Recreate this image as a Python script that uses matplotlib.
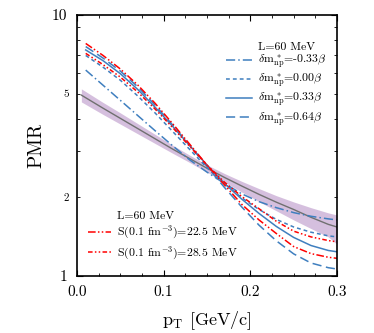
import matplotlib
matplotlib.use('Agg')
import matplotlib.pyplot as plt
from matplotlib.ticker import MultipleLocator
from matplotlib.lines import Line2D

plt.rcParams['font.family'] = 'serif'
plt.rcParams['font.serif'] = ['cmr10', 'DejaVu Serif']
plt.rcParams['mathtext.fontset'] = 'cm'
plt.rcParams['axes.unicode_minus'] = False

# transverse momentum grid (GeV/c) and log10(PMR)
pt = [0.01, 0.03, 0.05, 0.07, 0.09, 0.11, 0.13, 0.15, 0.17, 0.19, 0.21, 0.23, 0.25, 0.27, 0.29, 0.30]
pt_band = [0.005, 0.03, 0.05, 0.07, 0.09, 0.11, 0.13, 0.15, 0.17, 0.19, 0.21, 0.23, 0.25, 0.27, 0.29, 0.30]

dm_m033 = [0.789, 0.731, 0.673, 0.615, 0.557, 0.50, 0.445, 0.398, 0.355, 0.315, 0.285, 0.262, 0.243, 0.229, 0.219, 0.215]
dm_000 = [0.845, 0.80, 0.75, 0.69, 0.625, 0.555, 0.485, 0.415, 0.355, 0.30, 0.255, 0.217, 0.188, 0.168, 0.154, 0.150]
dm_033 = [0.866, 0.825, 0.775, 0.715, 0.647, 0.575, 0.50, 0.425, 0.355, 0.295, 0.24, 0.19, 0.148, 0.117, 0.098, 0.093]
dm_064 = [0.879, 0.835, 0.785, 0.725, 0.655, 0.58, 0.50, 0.42, 0.34, 0.265, 0.195, 0.135, 0.085, 0.05, 0.032, 0.027]
s_225 = [0.891, 0.845, 0.793, 0.732, 0.662, 0.585, 0.505, 0.425, 0.35, 0.275, 0.215, 0.163, 0.113, 0.086, 0.072, 0.068]
s_285 = [0.853, 0.81, 0.762, 0.705, 0.64, 0.57, 0.497, 0.425, 0.36, 0.305, 0.258, 0.21, 0.172, 0.15, 0.136, 0.131]

exp_mid = [0.693, 0.643, 0.604, 0.565, 0.526, 0.487, 0.45, 0.413, 0.378, 0.345, 0.313, 0.283, 0.255, 0.225, 0.198, 0.188]
exp_hi = [0.717, 0.665, 0.625, 0.584, 0.543, 0.502, 0.463, 0.426, 0.393, 0.363, 0.335, 0.308, 0.284, 0.262, 0.242, 0.234]
exp_lo = [0.667, 0.619, 0.582, 0.545, 0.508, 0.471, 0.435, 0.398, 0.36, 0.322, 0.285, 0.25, 0.215, 0.182, 0.15, 0.122]

def lin(v):
    return [10 ** x for x in v]

blue = '#3f7fbf'
red = '#ff0000'

fig = plt.figure(figsize=(3.74, 3.33), dpi=100)
ax = fig.add_axes([0.206, 0.171, 0.695, 0.784])

ax.fill_between(pt_band, lin(exp_lo), lin(exp_hi), color='#b48cc3', alpha=0.55, lw=0)
ax.plot(pt_band, lin(exp_mid), color='#707070', lw=1.0)

b1, = ax.plot(pt, lin(dm_m033), color=blue, lw=1.1, ls=(0, (6, 2, 1, 2)))
b2, = ax.plot(pt, lin(dm_000), color=blue, lw=1.1, ls=(0, (2.5, 2)))
b3, = ax.plot(pt, lin(dm_033), color=blue, lw=1.1, ls='-')
b4, = ax.plot(pt, lin(dm_064), color=blue, lw=1.1, ls=(0, (6, 3)))
r1, = ax.plot(pt, lin(s_225), color=red, lw=1.1, ls=(0, (5, 1.5, 1, 1.5, 1, 1.5)))
r2, = ax.plot(pt, lin(s_285), color=red, lw=1.1, ls=(0, (3, 1.5, 1, 1.5, 1, 1.5)))

ax.set_yscale('log')
ax.set_xlim(0, 0.3)
ax.set_ylim(1, 10)
ax.set_xticks([0, 0.1, 0.2, 0.3])
ax.set_xticklabels(['0.0', '0.1', '0.2', '0.3'], fontsize=11)
ax.xaxis.set_minor_locator(MultipleLocator(0.025))
ax.set_yticks([1, 10])
ax.set_yticklabels(['1', '10'], fontsize=11)
ax.set_yticks([2, 3, 4, 5, 6, 7, 8, 9], minor=True)
ax.set_yticklabels(['2', '', '', '5', '', '', '', ''], minor=True, fontsize=8)
ax.tick_params(which='both', direction='in', top=True, right=True)
ax.tick_params(which='major', length=4, width=0.8)
ax.tick_params(which='minor', length=2.5, width=0.6)
ax.tick_params(axis='x', which='major', pad=7)
ax.tick_params(axis='y', which='major', pad=7)
ax.tick_params(axis='y', which='minor', pad=6)
for s in ax.spines.values():
    s.set_linewidth(1.2)

ax.set_xlabel(r'$\mathrm{p_T}$ [GeV/c]', fontsize=13, labelpad=7)
ax.set_ylabel('PMR', fontsize=14, labelpad=5)

blank = Line2D([], [], color='none')
leg1 = ax.legend([blank, b1, b2, b3, b4],
                 ['L=60 MeV',
                  r'$\delta\mathrm{m}_{\mathrm{np}}^{\,*}$=-0.33$\beta$',
                  r'$\delta\mathrm{m}_{\mathrm{np}}^{\,*}$=0.00$\beta$',
                  r'$\delta\mathrm{m}_{\mathrm{np}}^{\,*}$=0.33$\beta$',
                  r'$\delta\mathrm{m}_{\mathrm{np}}^{\,*}$=0.64$\beta$'],
                 loc='upper right', bbox_to_anchor=(1.0, 0.94), frameon=False,
                 fontsize=8.5, handlelength=2.2, handletextpad=0.5, labelspacing=0.08)
ax.add_artist(leg1)
ax.legend([blank, r1, r2],
          ['L=60 MeV', r'S(0.1 fm$^{-3}$)=22.5 MeV', r'S(0.1 fm$^{-3}$)=28.5 MeV'],
          loc='lower left', bbox_to_anchor=(0.0, 0.015), frameon=False,
          fontsize=8.5, handlelength=2.0, handletextpad=0.5, labelspacing=0.25)

fig.savefig('out.png', dpi=100)
